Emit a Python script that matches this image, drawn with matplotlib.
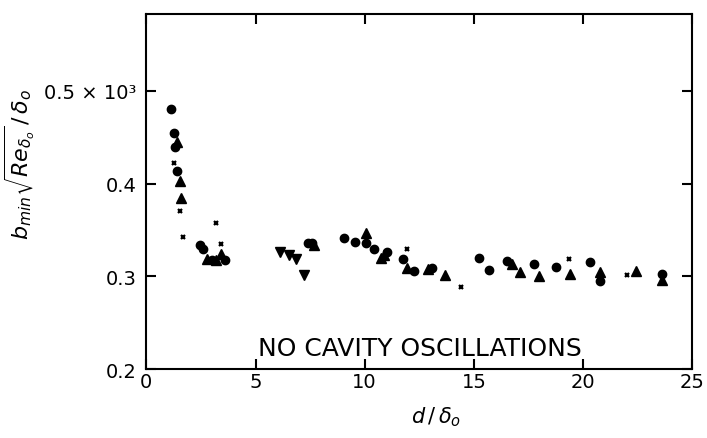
import matplotlib.pyplot as plt

# values
circ_x = [1.15, 1.27, 1.30, 1.39, 2.45, 2.60, 3.00, 3.60, 7.39, 7.60, 9.04, 9.56,
          10.05, 10.41, 11.01, 11.75, 12.25, 13.10, 15.23, 15.68, 16.53, 17.77,
          18.77, 20.31, 20.80, 23.60]
circ_y = [0.480, 0.455, 0.439, 0.414, 0.334, 0.330, 0.318, 0.318, 0.336, 0.336, 0.341, 0.337,
          0.336, 0.329, 0.326, 0.319, 0.306, 0.309, 0.320, 0.307, 0.317, 0.313,
          0.310, 0.316, 0.295, 0.302]

up_x = [1.39, 1.54, 1.57, 2.76, 3.20, 3.44, 7.69, 10.08, 10.75, 10.90, 11.95, 12.90,
        13.66, 16.73, 17.10, 17.99, 19.41, 20.80, 22.45, 23.60]
up_y = [0.445, 0.403, 0.385, 0.319, 0.318, 0.324, 0.334, 0.347, 0.320, 0.323, 0.309, 0.308,
        0.301, 0.313, 0.305, 0.300, 0.302, 0.305, 0.306, 0.296]

down_x = [6.12, 6.53, 6.87, 7.21]
down_y = [0.326, 0.323, 0.319, 0.301]

cross_x = [1.27, 1.54, 1.69, 3.21, 3.44, 11.95, 14.41, 19.34, 22.03]
cross_y = [0.422, 0.371, 0.342, 0.357, 0.335, 0.329, 0.288, 0.319, 0.301]

xticks = [0, 5, 10, 15, 20, 25]
yticks = [0.2, 0.3, 0.4, 0.5]
ytick_labels = ['0.2', '0.3', '0.4', '0.5 × 10³']

fig = plt.figure(figsize=(7.07, 4.39), dpi=100)
ax = fig.add_axes([0.207, 0.157, 0.772, 0.809])

ax.plot(circ_x, circ_y, 'o', color='black', ms=6, ls='none')
ax.plot(up_x, up_y, '^', color='black', ms=6.5, ls='none')
ax.plot(down_x, down_y, 'v', color='black', ms=6.5, ls='none')
ax.plot(cross_x, cross_y, 'x', color='black', ms=3.5, mew=1.6, ls='none')

ax.set_xlim(0, 25)
ax.set_ylim(0.2, 0.583)
ax.set_xticks(xticks)
ax.set_yticks(yticks)
ax.set_yticklabels(ytick_labels)

for s in ax.spines.values():
    s.set_linewidth(1.5)
ax.tick_params(direction='in', top=True, right=True, length=7, width=1.5,
               labelsize=14)
ax.tick_params(axis='x', pad=2)
ax.tick_params(axis='y', pad=7)

ax.set_xlabel(r'$d\,/\,\delta_o$', fontsize=15)
ax.xaxis.set_label_coords(0.53, -0.10)
ax.set_ylabel(r'$b_{min}\sqrt{Re_{\delta_o}}\,/\,\delta_o$', fontsize=16)
ax.yaxis.set_label_coords(-0.2, 0.58)

ax.text(12.55, 0.223, 'NO CAVITY OSCILLATIONS', ha='center', va='center', fontsize=18)

fig.savefig('out.png', dpi=100)
